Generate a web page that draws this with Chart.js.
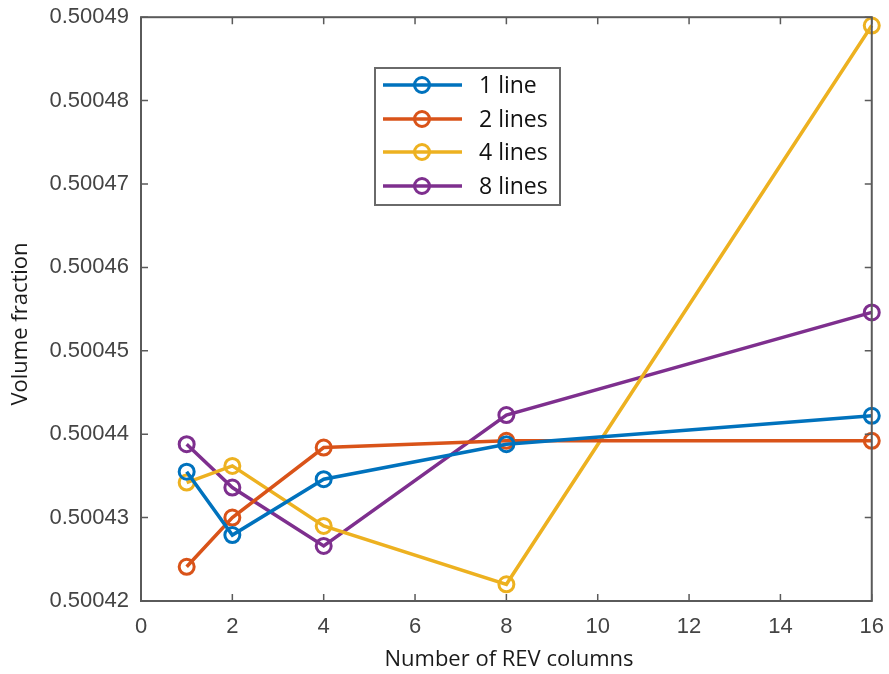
<!DOCTYPE html>
<html>
<head>
<meta charset="utf-8">
<script src="https://cdn.jsdelivr.net/npm/chart.js@4.4.1/dist/chart.umd.min.js"></script>
<style>
  html, body { margin: 0; padding: 0; background: #fff; }
  #wrap { width: 889px; height: 674px; }
</style>
</head>
<body>
<div id="wrap"><canvas id="chart" width="889" height="674"></canvas></div>
<script>
// REV column counts (x positions)
const columns = [1, 2, 4, 8, 16];

// volume fraction per line count
const oneLine = [0.5004355, 0.5004279, 0.5004346, 0.5004388, 0.5004422];
const twoLines = [0.5004241, 0.5004300, 0.5004384, 0.5004392, 0.5004392];
const fourLines = [0.5004342, 0.5004362, 0.5004290, 0.5004220, 0.5004890];
const eightLines = [0.5004388, 0.5004336, 0.5004266, 0.5004423, 0.5004546];

const seriesNames = ['1 line', '2 lines', '4 lines', '8 lines'];
const seriesColors = ['#0072BD', '#D95319', '#EDB120', '#7E2F8E'];

const xTicks = [0, 2, 4, 6, 8, 10, 12, 14, 16];
const yTicks = [0.50042, 0.50043, 0.50044, 0.50045, 0.50046, 0.50047, 0.50048, 0.50049];

const axisColor = '#5a5a5a';
const tickFont = { family: 'Liberation Sans, Arial, sans-serif', size: 22 };
const titleFont = { family: 'Open Sans, sans-serif', size: 22 };

function toPoints(ys) {
  return columns.map((x, i) => ({ x, y: ys[i] }));
}

const allSeries = [oneLine, twoLines, fourLines, eightLines];
const datasets = allSeries.map((ys, i) => ({
  label: seriesNames[i],
  data: toPoints(ys),
  borderColor: seriesColors[i],
  backgroundColor: 'rgba(0,0,0,0)',
  borderWidth: 3.5,
  pointRadius: 7.5,
  pointBorderWidth: 3,
  pointBackgroundColor: 'rgba(0,0,0,0)',
  pointBorderColor: seriesColors[i],
  tension: 0,
  clip: false
}));

// box, inward ticks and axis titles, matlab style
const frame = {
  id: 'frame',
  afterDraw(chart) {
    const { ctx, chartArea: a, scales } = chart;
    ctx.save();
    ctx.strokeStyle = axisColor;
    ctx.lineWidth = 2;
    ctx.strokeRect(a.left, a.top, a.right - a.left, a.bottom - a.top);
    ctx.lineWidth = 1.5;
    const len = 7;
    xTicks.forEach((v) => {
      const px = scales.x.getPixelForValue(v);
      ctx.beginPath();
      ctx.moveTo(px, a.bottom); ctx.lineTo(px, a.bottom - len);
      ctx.moveTo(px, a.top); ctx.lineTo(px, a.top + len);
      ctx.stroke();
    });
    yTicks.forEach((v) => {
      const py = scales.y.getPixelForValue(v);
      ctx.beginPath();
      ctx.moveTo(a.left, py); ctx.lineTo(a.left + len, py);
      ctx.moveTo(a.right, py); ctx.lineTo(a.right - len, py);
      ctx.stroke();
    });

    ctx.fillStyle = '#1a1a1a';
    ctx.font = `${titleFont.size}px ${titleFont.family}`;
    ctx.textAlign = 'center';
    ctx.textBaseline = 'middle';
    ctx.fillText('Number of REV columns', 509, 660);
    ctx.translate(21, 324);
    ctx.rotate(-Math.PI / 2);
    ctx.fillText('Volume fraction', 0, 0);
    ctx.restore();

    // legend
    ctx.save();
    const bx = 375, by = 68, bw = 185, bh = 137;
    ctx.fillStyle = '#fff';
    ctx.fillRect(bx, by, bw, bh);
    ctx.strokeStyle = '#6a6a6a';
    ctx.lineWidth = 2;
    ctx.strokeRect(bx, by, bw, bh);
    const rows = [85, 119, 152, 186];
    ctx.font = '23px Open Sans, sans-serif';
    ctx.textAlign = 'left';
    ctx.textBaseline = 'middle';
    seriesNames.forEach((name, i) => {
      const y = rows[i];
      ctx.strokeStyle = seriesColors[i];
      ctx.lineWidth = 3.5;
      ctx.beginPath();
      ctx.moveTo(383, y); ctx.lineTo(462, y);
      ctx.stroke();
      ctx.lineWidth = 3;
      ctx.beginPath();
      ctx.arc(422, y, 7.5, 0, Math.PI * 2);
      ctx.stroke();
      ctx.fillStyle = '#111';
      ctx.fillText(name, 479, y + 1);
    });
    ctx.restore();
  }
};

new Chart(document.getElementById('chart').getContext('2d'), {
  type: 'line',
  data: { datasets },
  options: {
    responsive: false,
    animation: false,
    layout: { padding: { top: 7, right: 17, left: 0, bottom: 0 } },
    plugins: {
      legend: { display: false },
      tooltip: { enabled: false }
    },
    scales: {
      x: {
        type: 'linear',
        min: 0,
        max: 16,
        afterBuildTicks: (s) => { s.ticks = xTicks.map((v) => ({ value: v })); },
        afterFit: (s) => { s.height = 73; },
        grid: { display: false },
        border: { display: false },
        ticks: { color: '#444', font: tickFont, padding: 5, maxRotation: 0, autoSkip: false }
      },
      y: {
        type: 'linear',
        min: 0.50042,
        max: 0.50049,
        afterBuildTicks: (s) => { s.ticks = yTicks.map((v) => ({ value: v })); },
        afterFit: (s) => { s.width = 141; },
        grid: { display: false },
        border: { display: false },
        ticks: {
          color: '#444',
          font: tickFont,
          padding: 4,
          autoSkip: false,
          callback: (v) => v.toFixed(5)
        }
      }
    }
  },
  plugins: [frame]
});
</script>
</body>
</html>
